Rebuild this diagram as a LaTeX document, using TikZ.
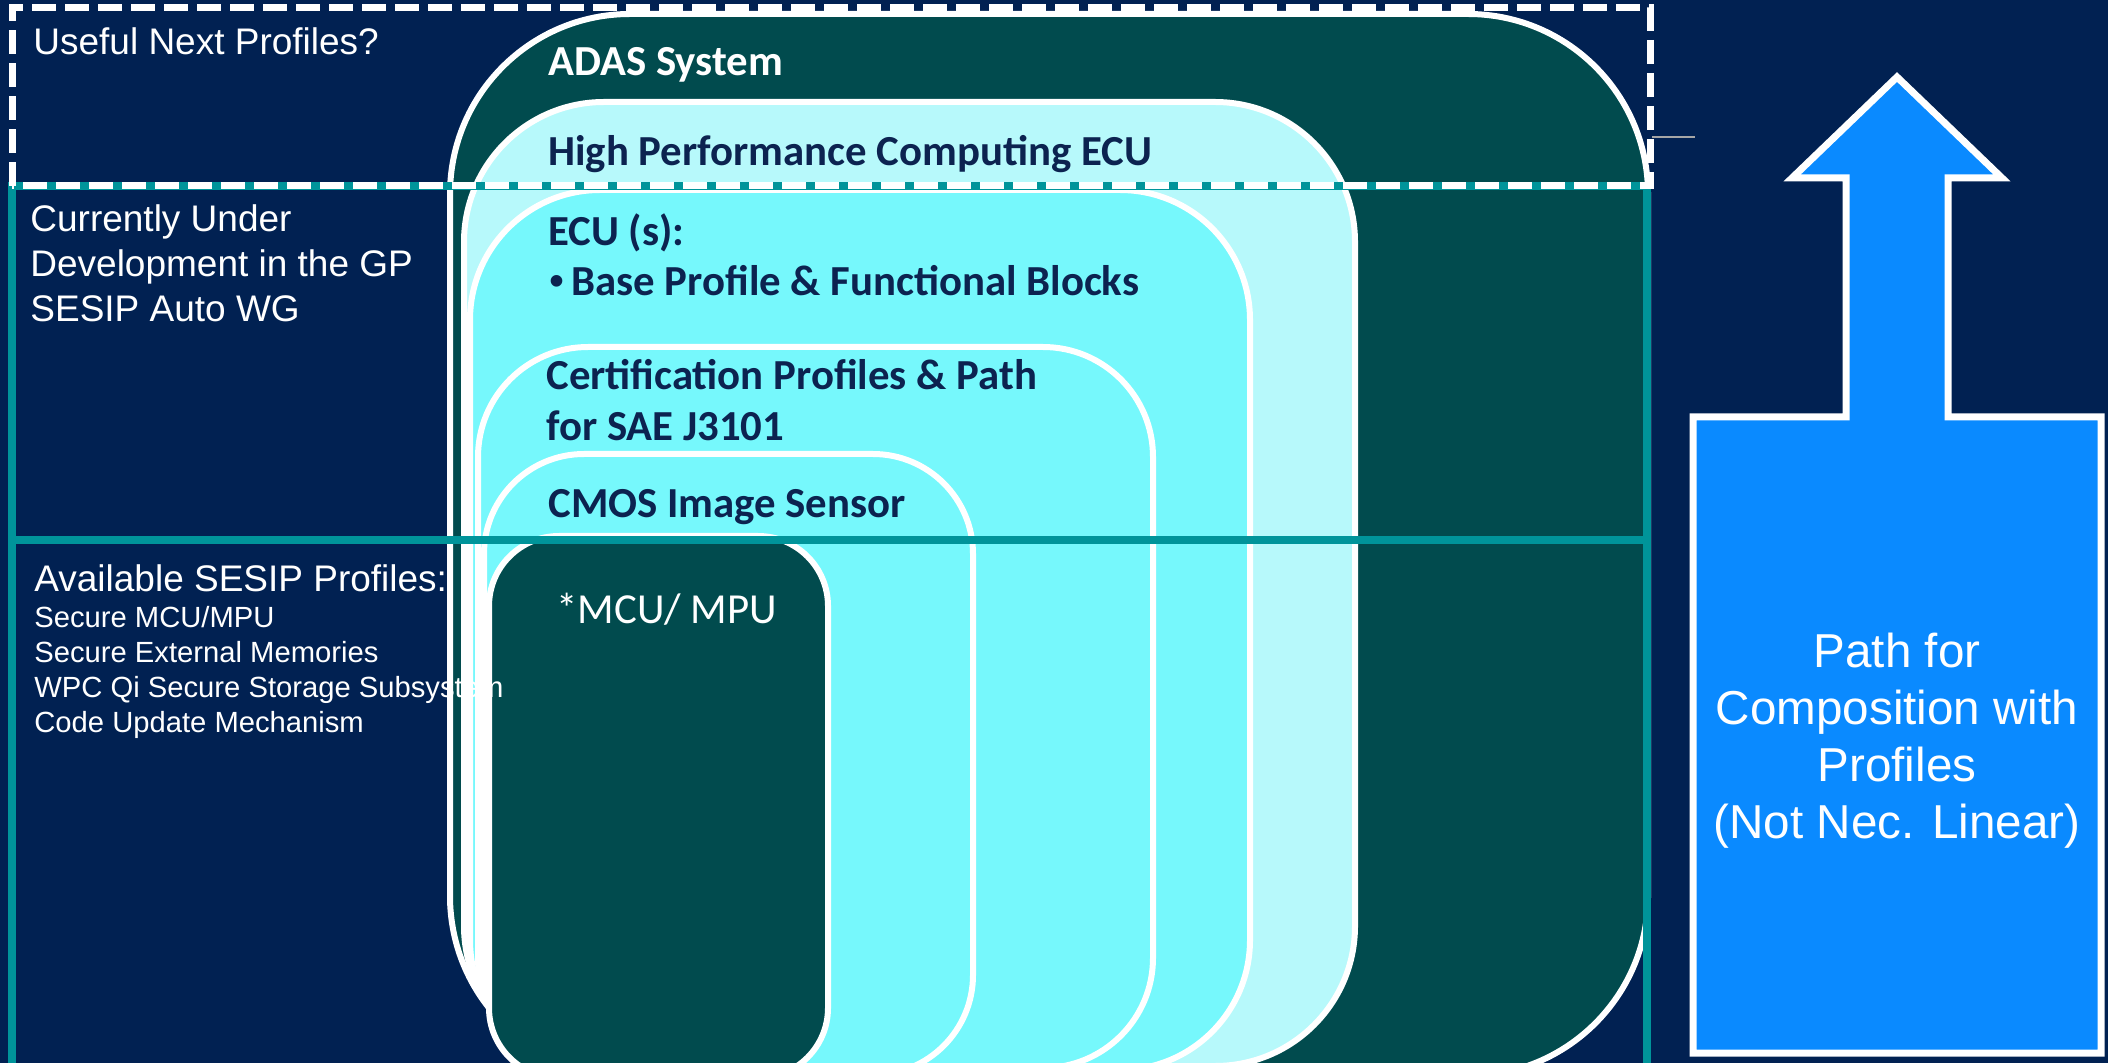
\documentclass[tikz,border=0pt]{standalone}
\usepackage{fontspec}
\setmainfont{Liberation Sans}
\newfontfamily\calibri{Carlito}
\definecolor{navy}{HTML}{012152}
\definecolor{darkteal}{HTML}{014B4E}
\definecolor{paleaqua}{HTML}{B7F9FB}
\definecolor{aqua}{HTML}{76F8FC}
\definecolor{tealline}{HTML}{00949A}
\definecolor{pathblue}{HTML}{0A8AFF}
\definecolor{inktext}{HTML}{0C2350}

\begin{document}
\begin{tikzpicture}[x=0.5pt,y=-0.5pt,
	layer/.style={draw=white,line width=3pt},
	lbl/.style={anchor=base west,inner sep=0pt,text=inktext,
		font=\calibri\bfseries\fontsize{21.4}{25}\selectfont},
	side/.style={anchor=base west,inner sep=0pt,text=white,font=\fontsize{18.5}{22}\selectfont},
	small/.style={anchor=base west,inner sep=0pt,text=white,font=\fontsize{14.6}{17.5}\selectfont},
	pathtxt/.style={anchor=base,inner sep=0pt,text=white,font=\fontsize{23.8}{28}\selectfont}]
\useasboundingbox (0,0) rectangle (2108,1063);
\clip (0,0) rectangle (2108,1063);
\fill[navy] (0,0) rectangle (2108,1063);
\draw[layer,fill=darkteal,rounded corners=90pt] (450,14) rectangle (1648,1076);
\draw[layer,fill=paleaqua,rounded corners=70pt] (464,102) rectangle (1355,1066);
\draw[layer,fill=aqua,rounded corners=65pt] (470,190) rectangle (1250,1070);
\draw[layer,fill=aqua,rounded corners=55pt] (478,347) rectangle (1153,1068);
\draw[layer,fill=aqua,rounded corners=50pt] (484,454) rectangle (973,1075);
\draw[layer,fill=darkteal,rounded corners=35pt] (489,536) rectangle (828,1078);
\draw[tealline,line width=4pt] (12,1063) -- (12,186) -- (1647,186) -- (1647,1063);
\draw[tealline,line width=4pt] (12,540) -- (1647,540);
\draw[white,line width=3.5pt,dash pattern=on 12pt off 4.5pt]
	(12,186) -- (12,8) -- (1650,8) -- (1650,186) -- cycle;
\draw[gray!70,line width=0.8pt] (1652,137) -- (1695,137);
\draw[white,line width=3.5pt,fill=pathblue]
	(1693,417) -- (1846,417) -- (1846,178) -- (1792,178) -- (1897,77)
	-- (2002,178) -- (1948,178) -- (1948,417) -- (2101,417) -- (2101,1053)
	-- (1693,1053) -- cycle;
\node[lbl,text=white] (adas) at (548,76) {ADAS System};
\node[lbl] (hpc) at (548,166) {High Performance Computing ECU};
\node[lbl] (ecu) at (548,246) {ECU (s):};
\node[lbl] (ecub) at (549,296) {{\normalfont\textbullet}\hspace{3.5pt}Base Profile \& Functional Blocks};
\node[lbl] (cert1) at (546,390) {Certification Profiles \& Path};
\node[lbl] (cert2) at (546,441) {for SAE J3101};
\node[lbl] (cmos) at (548,517) {CMOS Image Sensor};
\node[lbl,text=white,font=\calibri\fontsize{21.4}{25}\selectfont] (mcu) at (556,623) {*MCU/ MPU};
\node[side] (useful) at (33,55) {Useful Next Profiles?};
\foreach \t [count=\i] in {Currently Under,Development in the GP,SESIP Auto WG}
	\node[side] (cur\i) at (30,{232+45*(\i-1)}) {\t};
\node[side] (avail) at (34,591) {Available SESIP Profiles:};
\foreach \t [count=\i] in {Secure MCU/MPU,Secure External Memories,WPC Qi Secure Storage Subsystem,Code Update Mechanism}
	\node[small] (av\i) at (34,{627+35.2*(\i-1)}) {\t};
\foreach \t [count=\i] in {Path for,Composition with,Profiles,{(Not Nec. Linear)}}
	\node[pathtxt] (path\i) at (1897,{667+57.3*(\i-1)}) {\t};
\end{tikzpicture}
\end{document}
